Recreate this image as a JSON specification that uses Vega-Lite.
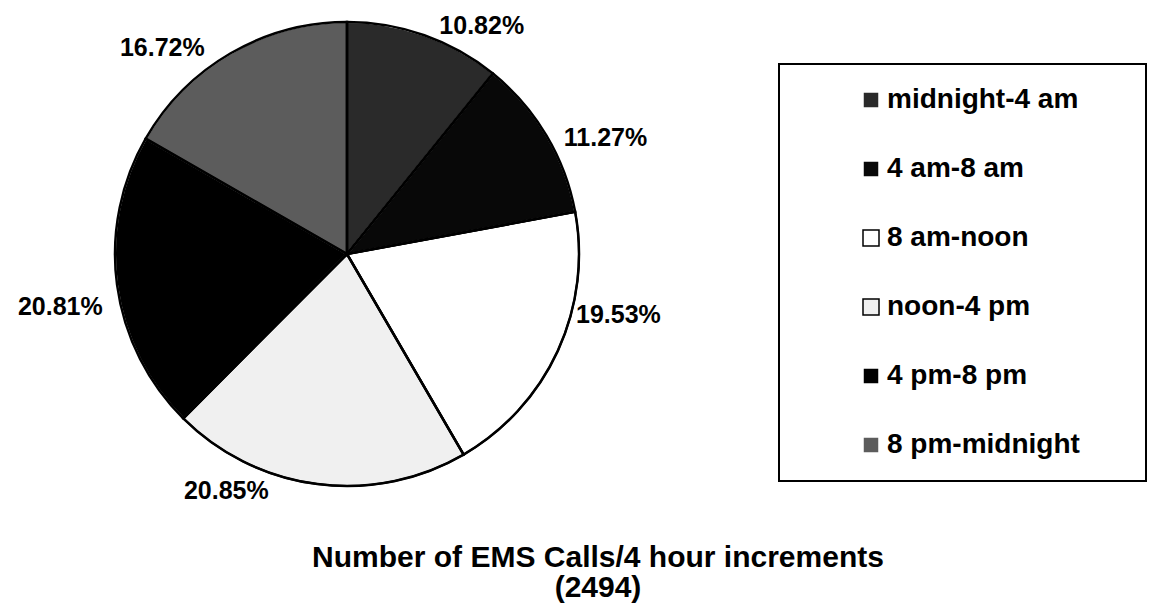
{
  "$schema": "https://vega.github.io/schema/vega-lite/v6.json",
  "width": 694,
  "height": 502,
  "padding": 0,
  "background": "white",
  "data": {
    "values": [
      {"slot": 1, "period": "midnight-4 am", "share": 0.1082},
      {"slot": 2, "period": "4 am-8 am", "share": 0.1127},
      {"slot": 3, "period": "8 am-noon", "share": 0.1953},
      {"slot": 4, "period": "noon-4 pm", "share": 0.2085},
      {"slot": 5, "period": "4 pm-8 pm", "share": 0.2081},
      {"slot": 6, "period": "8 pm-midnight", "share": 0.1672}
    ]
  },
  "title": {
    "text": ["Number of EMS Calls/4 hour increments", "(2494)"],
    "orient": "bottom",
    "anchor": "middle",
    "frame": "group",
    "dx": 251,
    "offset": 26,
    "font": "Liberation Sans",
    "fontSize": 30,
    "fontWeight": "bold",
    "lineHeight": 30,
    "color": "black"
  },
  "encoding": {
    "theta": {"field": "share", "type": "quantitative", "stack": true},
    "order": {"field": "slot", "type": "quantitative"}
  },
  "layer": [
    {
      "mark": {"type": "arc", "outerRadius": 232, "strokeWidth": 2},
      "encoding": {
        "color": {
          "field": "period",
          "type": "nominal",
          "scale": {
            "domain": ["midnight-4 am", "4 am-8 am", "8 am-noon", "noon-4 pm", "4 pm-8 pm", "8 pm-midnight"],
            "range": ["#2a2a2a", "#080808", "#ffffff", "#f0f0f0", "#000000", "#5c5c5c"]
          },
          "sort": null,
          "legend": {
            "title": "\u00a0",
            "titleOrient": "right",
            "titlePadding": 44,
            "titleFontSize": 28,
            "orient": "none",
            "legendX": 779,
            "legendY": 61,
            "direction": "vertical",
            "padding": 22,
            "strokeColor": "black",
            "fillColor": "white",
            "symbolType": "square",
            "symbolSize": 256,
            "symbolStrokeColor": "black",
            "symbolStrokeWidth": 1.5,
            "symbolOffset": 56,
            "labelOffset": 2,
            "labelFont": "Liberation Sans",
            "labelFontSize": 28,
            "labelFontWeight": "bold",
            "labelColor": "black",
            "labelLimit": 500,
            "rowPadding": 41
          }
        },
        "stroke": {
          "field": "period",
          "type": "nominal",
          "scale": {
            "domain": ["midnight-4 am", "4 am-8 am", "8 am-noon", "noon-4 pm", "4 pm-8 pm", "8 pm-midnight"],
            "range": ["#ffffff", "#ffffff", "#000000", "#000000", "#ffffff", "#ffffff"]
          },
          "legend": null
        }
      }
    },
    {
      "mark": {"type": "arc", "outerRadius": 232, "fill": null, "filled": false, "stroke": "black", "strokeWidth": 2.5},
      "encoding": {}
    },
    {
      "mark": {"type": "text", "radius": 246, "thetaOffset": 0.045, "align": "left", "baseline": "middle", "font": "Liberation Sans", "fontSize": 25, "fontWeight": "bold", "color": "black"},
      "encoding": {
        "text": {"condition": {"test": "datum.slot <= 2", "field": "share", "format": ".2%"}, "value": ""}
      }
    },
    {
      "mark": {"type": "text", "radius": 237, "thetaOffset": -0.17, "align": "left", "baseline": "middle", "font": "Liberation Sans", "fontSize": 25, "fontWeight": "bold", "color": "black"},
      "encoding": {
        "text": {"condition": {"test": "datum.slot == 3", "field": "share", "format": ".2%"}, "value": ""}
      }
    },
    {
      "mark": {"type": "text", "radius": 250, "thetaOffset": 0.19, "align": "right", "baseline": "middle", "font": "Liberation Sans", "fontSize": 25, "fontWeight": "bold", "color": "black"},
      "encoding": {
        "text": {"condition": {"test": "datum.slot == 4", "field": "share", "format": ".2%"}, "value": ""}
      }
    },
    {
      "mark": {"type": "text", "radius": 250, "thetaOffset": -0.08, "align": "right", "baseline": "middle", "font": "Liberation Sans", "fontSize": 25, "fontWeight": "bold", "color": "black"},
      "encoding": {
        "text": {"condition": {"test": "datum.slot >= 5", "field": "share", "format": ".2%"}, "value": ""}
      }
    }
  ],
  "config": {
    "view": {"stroke": null},
    "legend": {"strokeWidth": 2}
  }
}
